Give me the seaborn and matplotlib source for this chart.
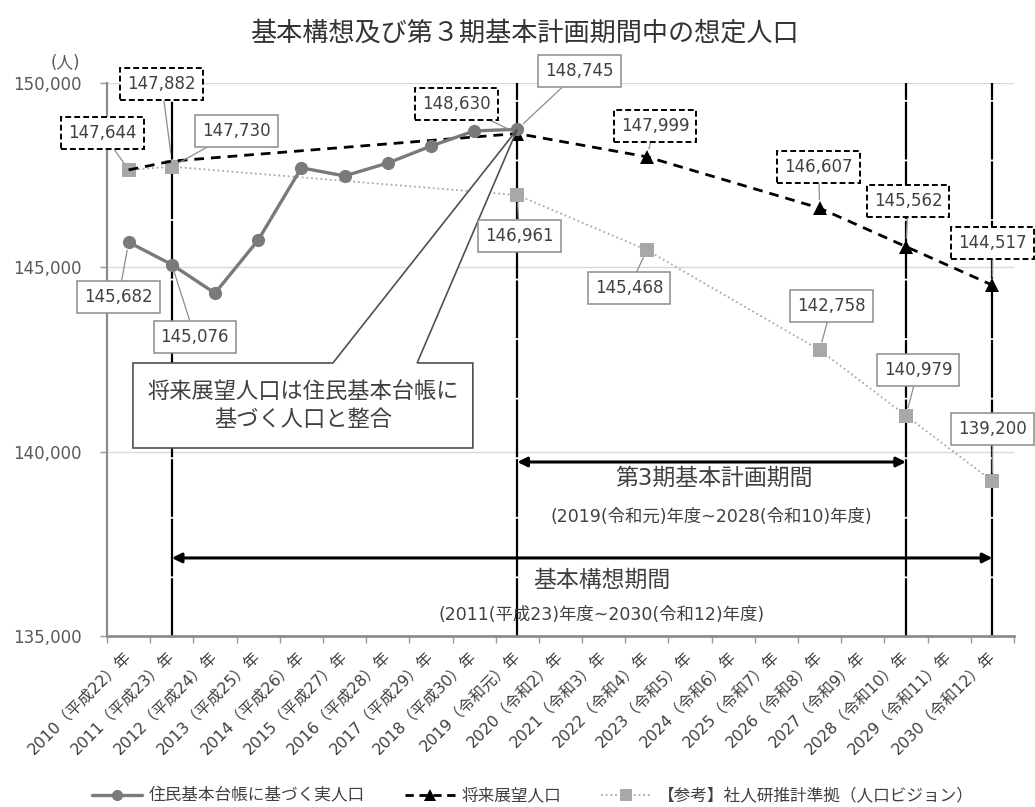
import matplotlib
matplotlib.use("Agg")
import matplotlib.pyplot as plt
from matplotlib.patches import Polygon
from matplotlib.lines import Line2D
from matplotlib.ticker import FuncFormatter, FixedLocator
import pandas as pd
import seaborn as sns

# ---- data -------------------------------------------------------------
years = list(range(2010, 2031))
eras = ["平成22", "平成23", "平成24", "平成25", "平成26", "平成27", "平成28",
        "平成29", "平成30", "令和元", "令和2", "令和3", "令和4", "令和5",
        "令和6", "令和7", "令和8", "令和9", "令和10", "令和11", "令和12"]
tick_labels = [f"{y}（{e}）年" for y, e in zip(years, eras)]

# resident-registry population (actual)
actual_years = list(range(2010, 2020))
actual_pop = [145682, 145076, 144300, 145740, 147700, 147480, 147830,
              148290, 148700, 148745]

# projected population (future vision)
vision_years = [2010, 2011, 2019, 2022, 2026, 2028, 2030]
vision_pop = [147644, 147882, 148630, 147999, 146607, 145562, 144517]

# reference: IPSS-based estimate (population vision)
ipss_years = [2010, 2011, 2019, 2022, 2026, 2028, 2030]
ipss_pop = [147644, 147730, 146961, 145468, 142758, 140979, 139200]

series_names = ["住民基本台帳に基づく実人口", "将来展望人口",
                "【参考】社人研推計準拠（人口ビジョン）"]

period_years = [2011, 2019, 2028, 2030]
plan_span = (2019, 2028)
concept_span = (2011, 2030)

title = "基本構想及び第３期基本計画期間中の想定人口"
callout_text = "将来展望人口は住民基本台帳に\n基づく人口と整合"

# ---- styling ------------------------------------------------------------
sns.set_theme(style="white")
plt.rcParams["font.family"] = ["DejaVu Sans", "Noto Sans CJK JP"]

GRAY_ACT = "#7a7a7a"
GRAY_REF = "#a8a8a8"
TXT = "#404040"

pos = {y: i for i, y in enumerate(years)}

fig = plt.figure(figsize=(10.35, 8.07), dpi=100)
ax = fig.add_axes([0.1034, 0.2119, 0.8763, 0.6852])

# period marker lines
for y in period_years:
    ax.axvline(pos[y], color="black", lw=1.6, ls=(0, (26, 0.8)), zorder=2)

# series
df_ipss = pd.DataFrame({"x": [pos[y] for y in ipss_years], "pop": ipss_pop})
df_vis = pd.DataFrame({"x": [pos[y] for y in vision_years], "pop": vision_pop})
df_act = pd.DataFrame({"x": [pos[y] for y in actual_years], "pop": actual_pop})

sns.lineplot(data=df_ipss, x="x", y="pop", ax=ax, color=GRAY_REF, lw=1.3,
             linestyle=(0, (1, 1.6)), marker="s", markersize=10,
             markeredgecolor=GRAY_REF, markeredgewidth=0, errorbar=None,
             legend=False, zorder=3)
vis_marks = [i for i, y in enumerate(vision_years) if y >= 2019]
sns.lineplot(data=df_vis, x="x", y="pop", ax=ax, color="black", lw=2.0,
             linestyle=(0, (3.5, 2.5)), marker="^", markersize=10,
             markevery=vis_marks, markeredgecolor="black",
             markeredgewidth=0, errorbar=None, legend=False, zorder=4)
sns.lineplot(data=df_act, x="x", y="pop", ax=ax, color=GRAY_ACT, lw=2.4,
             marker="o", markersize=9.5, markeredgecolor=GRAY_ACT,
             markeredgewidth=0, errorbar=None, legend=False, zorder=5)

# axes
ax.set_xlim(-0.5, len(years) - 0.5)
ax.set_ylim(135000, 150000)
ax.set_xlabel("")
ax.set_ylabel("")
ax.set_yticks([135000, 140000, 145000, 150000])
ax.yaxis.set_major_formatter(FuncFormatter(lambda v, p: f"{int(v):,}"))
ax.yaxis.grid(True, color="#d9d9d9", lw=1.0)
ax.set_axisbelow(True)
ax.set_xticks(range(len(years)))
ax.set_xticklabels(tick_labels, rotation=45, ha="right", va="center",
                   rotation_mode="anchor", fontsize=11.3, color=TXT)
ax.xaxis.set_minor_locator(FixedLocator([i + 0.5 for i in range(-1, len(years))]))
ax.tick_params(axis="x", which="major", length=0, pad=13)
ax.tick_params(axis="x", which="minor", length=5, width=1, color="#9a9a9a",
               direction="out", bottom=True)
ax.tick_params(axis="y", length=5, width=1, color="#9a9a9a", direction="out",
               left=True, labelsize=12, labelcolor="#595959", pad=13)
for side in ["top", "right"]:
    ax.spines[side].set_visible(False)
ax.spines["left"].set_color("#8c8c8c")
ax.spines["left"].set_linewidth(1.6)
ax.spines["bottom"].set_color("#8c8c8c")
ax.spines["bottom"].set_linewidth(2.0)

# period arrows and captions
y_plan, y_concept = 139720, 137117
ax.annotate("", xy=(pos[plan_span[1]], y_plan), xytext=(pos[plan_span[0]], y_plan),
            arrowprops=dict(arrowstyle="<|-|>", color="black", lw=2.2,
                            mutation_scale=14, shrinkA=0, shrinkB=0), zorder=6)
ax.annotate("", xy=(pos[concept_span[1]], y_concept),
            xytext=(pos[concept_span[0]], y_concept),
            arrowprops=dict(arrowstyle="<|-|>", color="black", lw=2.2,
                            mutation_scale=14, shrinkA=0, shrinkB=0), zorder=6)
ax.text(13.55, 139286, "第3期基本計画期間", ha="center", va="center",
        fontsize=16.5, color=TXT)
ax.text(13.5, 138228, "(2019(令和元)年度~2028(令和10)年度)", ha="center",
        va="center", fontsize=12.5, color=TXT)
ax.text(10.95, 136519, "基本構想期間", ha="center", va="center",
        fontsize=16.5, color=TXT)
ax.text(10.95, 135570, "(2011(平成23)年度~2030(令和12)年度)", ha="center",
        va="center", fontsize=12.5, color=TXT)

# callout pointing to the 2019 value
tip = (pos[2019], actual_pop[-1])
callout = Polygon([(0.10, 140100), (0.10, 142406), (4.73, 142406), tip,
                   (6.68, 142406), (7.97, 142406), (7.97, 140100)],
                  closed=True, fc="white", ec="#505050", lw=1.2, zorder=7)
ax.add_patch(callout)
ax.text(4.04, 141250, callout_text, ha="center", va="center", fontsize=16,
        color=TXT, linespacing=1.45, zorder=8)

# value labels: (series, year, dx px, dy px)
label_offsets = [
    ("vision", 2010, -26, 37), ("vision", 2011, -10, 77),
    ("ipss", 2011, 65, 36), ("vision", 2019, -61, 30),
    ("actual", 2019, 62, 58), ("ipss", 2019, 2, -41),
    ("actual", 2010, -10, -55), ("actual", 2011, 23, -72),
    ("vision", 2022, 8, 31), ("ipss", 2022, -18, -38),
    ("vision", 2026, -1, 41), ("ipss", 2026, 12, 44),
    ("vision", 2028, 2, 46), ("ipss", 2028, 12, 46),
    ("vision", 2030, 0, 42), ("ipss", 2030, 0, 52),
]
lookup = {
    "actual": dict(zip(actual_years, actual_pop)),
    "vision": dict(zip(vision_years, vision_pop)),
    "ipss": dict(zip(ipss_years, ipss_pop)),
}
for name, yr, dx, dy in label_offsets:
    val = lookup[name][yr]
    if name == "vision":
        box = dict(boxstyle="square,pad=0.42", fc="white", ec="black", lw=1.4,
                   ls=(0, (3, 1.6)))
    else:
        box = dict(boxstyle="square,pad=0.42", fc="white", ec="#8c8c8c", lw=1.1)
    ax.annotate(f"{val:,}", xy=(pos[yr], val), xytext=(dx, dy),
                textcoords="offset pixels", ha="center", va="center",
                fontsize=12, color=TXT, bbox=box, zorder=9,
                annotation_clip=False,
                arrowprops=dict(arrowstyle="-", color="#8c8c8c", lw=0.9,
                                shrinkA=0, shrinkB=6))

# title and unit
fig.text(0.507, 0.959, title, ha="center", va="center", fontsize=18.8,
         color="#333333")
fig.text(65 / 1035, 1 - 63 / 807, "(人)", ha="center", va="center",
         fontsize=12, color="#595959")

# legend
handles = [
    Line2D([], [], color=GRAY_ACT, lw=2.4, marker="o", markersize=8,
           markeredgewidth=0),
    Line2D([], [], color="black", lw=2.0, ls=(0, (3, 2)), marker="^",
           markersize=8, markeredgewidth=0),
    Line2D([], [], color=GRAY_REF, lw=1.3, ls=(0, (1, 1.6)), marker="s",
           markersize=8, markeredgewidth=0),
]
fig.legend(handles, series_names, loc="center", bbox_to_anchor=(0.515, 0.014),
           ncol=3, frameon=False, fontsize=12, handlelength=3,
           columnspacing=2.4, handletextpad=0.4, labelcolor=TXT)

fig.savefig("out.png", dpi=100)
